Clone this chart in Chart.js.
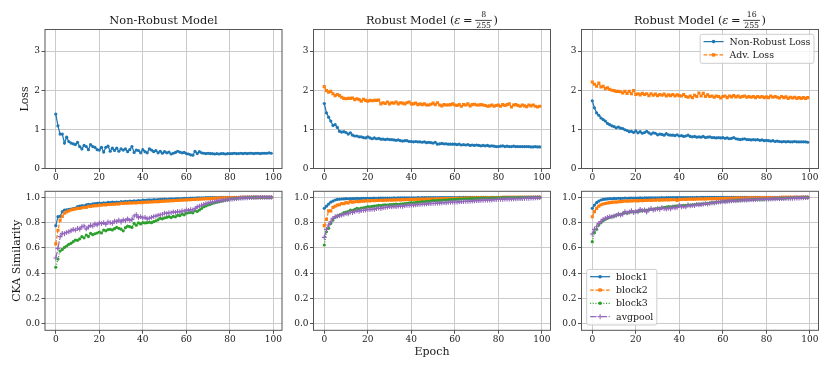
<!DOCTYPE html>
<html>
<head>
<meta charset="utf-8">
<title>Loss and CKA similarity</title>
<script src="https://cdn.jsdelivr.net/npm/chart.js@4.4.1/dist/chart.umd.min.js"></script>
<style>
  html, body { margin: 0; padding: 0; background: #fff; }
  #fig { position: relative; width: 831px; height: 369px; overflow: hidden; background: #fff; }
  #fig canvas { position: absolute; }
</style>
</head>
<body>
<div id="fig">
  <canvas id="lossNat" width="290" height="185" style="left:0px;top:0px"></canvas>
  <canvas id="lossR8" width="290" height="185" style="left:268px;top:0px"></canvas>
  <canvas id="lossR16" width="290" height="185" style="left:536px;top:0px"></canvas>
  <canvas id="ckaNat" width="290" height="184" style="left:0px;top:185px"></canvas>
  <canvas id="ckaR8" width="290" height="184" style="left:268px;top:185px"></canvas>
  <canvas id="ckaR16" width="290" height="184" style="left:536px;top:185px"></canvas>
</div>
<script>
// ---- data ----
const epochs = [
  0, 1, 2, 3, 4, 5, 6, 7, 8, 9,
  10, 11, 12, 13, 14, 15, 16, 17, 18, 19,
  20, 21, 22, 23, 24, 25, 26, 27, 28, 29,
  30, 31, 32, 33, 34, 35, 36, 37, 38, 39,
  40, 41, 42, 43, 44, 45, 46, 47, 48, 49,
  50, 51, 52, 53, 54, 55, 56, 57, 58, 59,
  60, 61, 62, 63, 64, 65, 66, 67, 68, 69,
  70, 71, 72, 73, 74, 75, 76, 77, 78, 79,
  80, 81, 82, 83, 84, 85, 86, 87, 88, 89,
  90, 91, 92, 93, 94, 95, 96, 97, 98, 99
];
const xTicks = [0, 20, 40, 60, 80, 100];
const lossTicks = [0, 1, 2, 3];
const ckaTicks = [0, 0.2, 0.4, 0.6, 0.8, 1.0];

const panelTitles = ["Non-Robust Model", "Robust Model (", "Robust Model ("];
const epsFractions = [null, ["8", "255"], ["16", "255"]];
const lossLabels = ["Non-Robust Loss", "Adv. Loss"];
const blockLabels = ["block1", "block2", "block3", "avgpool"];

// non-robust model, natural loss
const lossNatClean = [
  1.39, 1.09, 0.88, 0.88, 0.65, 0.80, 0.69, 0.65, 0.63, 0.61,
  0.67, 0.56, 0.50, 0.59, 0.56, 0.48, 0.61, 0.56, 0.54, 0.48,
  0.47, 0.54, 0.42, 0.54, 0.57, 0.44, 0.52, 0.46, 0.52, 0.44,
  0.50, 0.47, 0.50, 0.43, 0.48, 0.56, 0.41, 0.47, 0.46, 0.40,
  0.48, 0.43, 0.40, 0.50, 0.47, 0.43, 0.46, 0.40, 0.44, 0.39,
  0.43, 0.40, 0.42, 0.37, 0.39, 0.41, 0.44, 0.42, 0.40, 0.41,
  0.38, 0.37, 0.35, 0.34, 0.44, 0.38, 0.43, 0.40, 0.39, 0.38,
  0.39, 0.38, 0.38, 0.37, 0.38, 0.37, 0.38, 0.38, 0.37, 0.38,
  0.38, 0.38, 0.39, 0.38, 0.38, 0.39, 0.38, 0.39, 0.38, 0.39,
  0.39, 0.38, 0.39, 0.39, 0.38, 0.39, 0.39, 0.39, 0.40, 0.39
];
// robust eps=8/255
const lossR8Clean = [
  1.66, 1.42, 1.31, 1.21, 1.10, 1.12, 1.05, 0.95, 0.93, 0.94,
  0.92, 0.88, 0.91, 0.85, 0.83, 0.83, 0.81, 0.81, 0.79, 0.78,
  0.81, 0.78, 0.76, 0.78, 0.76, 0.77, 0.75, 0.75, 0.74, 0.75,
  0.74, 0.74, 0.73, 0.72, 0.73, 0.71, 0.70, 0.71, 0.71, 0.69,
  0.69, 0.68, 0.69, 0.68, 0.68, 0.67, 0.68, 0.66, 0.67, 0.66,
  0.65, 0.67, 0.62, 0.63, 0.64, 0.63, 0.63, 0.62, 0.62, 0.62,
  0.62, 0.61, 0.62, 0.60, 0.61, 0.60, 0.61, 0.59, 0.60, 0.59,
  0.60, 0.59, 0.58, 0.59, 0.58, 0.59, 0.57, 0.58, 0.57, 0.56,
  0.56, 0.57, 0.58, 0.56, 0.57, 0.56, 0.56, 0.57, 0.56, 0.56,
  0.56, 0.56, 0.56, 0.56, 0.56, 0.55, 0.55, 0.56, 0.55, 0.55
];
const lossR8Adv = [
  2.09, 1.99, 1.95, 1.97, 1.91, 1.86, 1.89, 1.86, 1.82, 1.79,
  1.78, 1.79, 1.79, 1.80, 1.76, 1.78, 1.76, 1.72, 1.77, 1.74,
  1.72, 1.74, 1.73, 1.74, 1.74, 1.75, 1.65, 1.68, 1.66, 1.70,
  1.65, 1.68, 1.67, 1.70, 1.65, 1.68, 1.67, 1.65, 1.68, 1.70,
  1.65, 1.65, 1.67, 1.63, 1.65, 1.63, 1.65, 1.62, 1.62, 1.64,
  1.67, 1.63, 1.68, 1.62, 1.60, 1.63, 1.62, 1.62, 1.63, 1.65,
  1.62, 1.61, 1.63, 1.59, 1.63, 1.62, 1.65, 1.60, 1.63, 1.64,
  1.62, 1.62, 1.63, 1.62, 1.61, 1.59, 1.60, 1.62, 1.59, 1.61,
  1.62, 1.59, 1.63, 1.61, 1.63, 1.65, 1.57, 1.62, 1.63, 1.61,
  1.59, 1.62, 1.60, 1.58, 1.62, 1.60, 1.62, 1.59, 1.57, 1.59
];
// robust eps=16/255
const lossR16Clean = [
  1.73, 1.55, 1.42, 1.36, 1.29, 1.25, 1.21, 1.15, 1.12, 1.09,
  1.07, 1.04, 1.06, 1.03, 1.02, 0.99, 0.97, 0.94, 0.95, 0.92,
  0.96, 0.91, 0.94, 0.90, 0.92, 0.95, 0.91, 0.88, 0.91, 0.90,
  0.86, 0.88, 0.87, 0.85, 0.89, 0.86, 0.85, 0.85, 0.84, 0.86,
  0.83, 0.84, 0.82, 0.83, 0.85, 0.82, 0.81, 0.82, 0.80, 0.81,
  0.80, 0.82, 0.79, 0.80, 0.81, 0.79, 0.79, 0.78, 0.79, 0.78,
  0.79, 0.77, 0.78, 0.76, 0.77, 0.79, 0.76, 0.75, 0.74, 0.75,
  0.76, 0.74, 0.74, 0.73, 0.74, 0.73, 0.74, 0.72, 0.73, 0.71,
  0.72, 0.71, 0.70, 0.71, 0.69, 0.70, 0.69, 0.68, 0.69, 0.68,
  0.69, 0.68, 0.68, 0.69, 0.68, 0.68, 0.68, 0.68, 0.68, 0.67
];
const lossR16Adv = [
  2.21, 2.15, 2.10, 2.18, 2.08, 2.10, 2.04, 2.06, 2.02, 2.00,
  1.99, 1.97, 1.97, 1.96, 1.93, 1.97, 1.92, 1.97, 1.91, 1.99,
  1.89, 1.91, 1.88, 1.92, 1.89, 1.91, 1.86, 1.91, 1.87, 1.90,
  1.86, 1.89, 1.87, 1.90, 1.85, 1.88, 1.86, 1.89, 1.85, 1.88,
  1.86, 1.85, 1.89, 1.84, 1.82, 1.85, 1.81, 1.87, 1.84, 1.93,
  1.85, 1.92, 1.84, 1.88, 1.84, 1.85, 1.82, 1.85, 1.84, 1.80,
  1.84, 1.85, 1.81, 1.85, 1.83, 1.86, 1.83, 1.85, 1.82, 1.84,
  1.85, 1.82, 1.84, 1.82, 1.84, 1.81, 1.84, 1.82, 1.84, 1.81,
  1.83, 1.81, 1.85, 1.82, 1.84, 1.82, 1.80, 1.84, 1.81, 1.83,
  1.79, 1.82, 1.80, 1.82, 1.79, 1.81, 1.79, 1.81, 1.79, 1.81
];

// CKA similarity, non-robust model
const ckaNatBlock1 = [
  0.776, 0.847, 0.850, 0.887, 0.900, 0.902, 0.905, 0.908, 0.912, 0.915,
  0.926, 0.930, 0.935, 0.933, 0.940, 0.945, 0.942, 0.948, 0.950, 0.952,
  0.955, 0.953, 0.957, 0.955, 0.960, 0.958, 0.962, 0.960, 0.963, 0.961,
  0.966, 0.964, 0.968, 0.966, 0.970, 0.968, 0.972, 0.970, 0.974, 0.973,
  0.978, 0.976, 0.979, 0.981, 0.979, 0.982, 0.980, 0.983, 0.984, 0.985,
  0.986, 0.985, 0.987, 0.988, 0.987, 0.989, 0.990, 0.989, 0.991, 0.992,
  0.993, 0.993, 0.994, 0.995, 0.995, 0.996, 0.996, 0.997, 0.997, 0.998,
  0.998, 0.998, 0.999, 0.999, 0.999, 0.999, 1.000, 1.000, 1.000, 1.000,
  1.000, 1.000, 1.000, 1.000, 1.000, 1.000, 1.000, 1.000, 1.000, 1.000,
  1.000, 1.000, 1.000, 1.000, 1.000, 1.000, 1.000, 1.000, 1.000, 1.000
];
const ckaNatBlock2 = [
  0.632, 0.740, 0.820, 0.850, 0.875, 0.885, 0.893, 0.900, 0.905, 0.908,
  0.913, 0.912, 0.918, 0.922, 0.920, 0.930, 0.928, 0.933, 0.935, 0.934,
  0.940, 0.938, 0.942, 0.941, 0.944, 0.943, 0.946, 0.945, 0.948, 0.947,
  0.953, 0.951, 0.954, 0.953, 0.956, 0.955, 0.957, 0.956, 0.959, 0.958,
  0.960, 0.961, 0.962, 0.963, 0.963, 0.965, 0.966, 0.966, 0.968, 0.969,
  0.970, 0.971, 0.972, 0.973, 0.974, 0.975, 0.976, 0.977, 0.978, 0.979,
  0.980, 0.981, 0.982, 0.983, 0.984, 0.985, 0.986, 0.987, 0.988, 0.989,
  0.990, 0.991, 0.992, 0.993, 0.994, 0.995, 0.995, 0.996, 0.997, 0.997,
  0.998, 0.998, 0.999, 0.999, 0.999, 1.000, 1.000, 1.000, 1.000, 1.000,
  1.000, 1.000, 1.000, 1.000, 1.000, 1.000, 1.000, 1.000, 1.000, 1.000
];
const ckaNatBlock3 = [
  0.447, 0.512, 0.575, 0.588, 0.604, 0.615, 0.628, 0.636, 0.649, 0.662,
  0.660, 0.672, 0.689, 0.680, 0.702, 0.690, 0.715, 0.705, 0.712, 0.718,
  0.726, 0.718, 0.741, 0.735, 0.745, 0.747, 0.742, 0.752, 0.762, 0.755,
  0.748, 0.735, 0.760, 0.772, 0.768, 0.762, 0.794, 0.780, 0.798, 0.790,
  0.800, 0.798, 0.800, 0.803, 0.800, 0.808, 0.815, 0.822, 0.834, 0.830,
  0.838, 0.842, 0.847, 0.840, 0.850, 0.846, 0.858, 0.855, 0.868, 0.862,
  0.875, 0.879, 0.882, 0.878, 0.894, 0.888, 0.900, 0.912, 0.926, 0.932,
  0.940, 0.945, 0.953, 0.957, 0.962, 0.966, 0.970, 0.974, 0.979, 0.982,
  0.987, 0.989, 0.990, 0.992, 0.993, 0.995, 0.996, 0.997, 0.998, 0.999,
  1.000, 1.000, 1.000, 1.000, 1.000, 1.000, 1.000, 1.000, 1.000, 1.000
];
const ckaNatPool = [
  0.520, 0.596, 0.689, 0.715, 0.712, 0.723, 0.728, 0.736, 0.747, 0.741,
  0.755, 0.748, 0.768, 0.773, 0.750, 0.765, 0.778, 0.772, 0.790, 0.782,
  0.798, 0.792, 0.800, 0.787, 0.805, 0.800, 0.795, 0.812, 0.808, 0.820,
  0.805, 0.822, 0.815, 0.830, 0.818, 0.825, 0.852, 0.863, 0.840, 0.848,
  0.838, 0.842, 0.830, 0.835, 0.842, 0.848, 0.852, 0.858, 0.862, 0.866,
  0.876, 0.872, 0.880, 0.878, 0.885, 0.882, 0.888, 0.885, 0.892, 0.890,
  0.900, 0.897, 0.903, 0.900, 0.910, 0.925, 0.930, 0.938, 0.944, 0.950,
  0.955, 0.960, 0.963, 0.967, 0.970, 0.973, 0.976, 0.978, 0.980, 0.983,
  0.985, 0.987, 0.989, 0.991, 0.992, 0.994, 0.995, 0.996, 0.997, 0.998,
  0.998, 0.999, 0.999, 1.000, 1.000, 1.000, 1.000, 1.000, 1.000, 1.000
];

// CKA similarity, robust eps=8/255
const ckaR8Block1 = [
  0.913, 0.930, 0.947, 0.963, 0.971, 0.979, 0.984, 0.985, 0.987, 0.988,
  0.990, 0.989, 0.991, 0.990, 0.991, 0.992, 0.991, 0.992, 0.993, 0.992,
  0.992, 0.993, 0.993, 0.994, 0.993, 0.994, 0.994, 0.995, 0.994, 0.995,
  0.995, 0.995, 0.996, 0.995, 0.996, 0.996, 0.996, 0.997, 0.996, 0.997,
  0.997, 0.997, 0.997, 0.998, 0.997, 0.998, 0.998, 0.998, 0.998, 0.998,
  0.998, 0.999, 0.998, 0.999, 0.999, 0.999, 0.999, 0.999, 0.999, 0.999,
  0.999, 0.999, 1.000, 0.999, 1.000, 1.000, 1.000, 1.000, 1.000, 1.000,
  1.000, 1.000, 1.000, 1.000, 1.000, 1.000, 1.000, 1.000, 1.000, 1.000,
  1.000, 1.000, 1.000, 1.000, 1.000, 1.000, 1.000, 1.000, 1.000, 1.000,
  1.000, 1.000, 1.000, 1.000, 1.000, 1.000, 1.000, 1.000, 1.000, 1.000
];
const ckaR8Block2 = [
  0.776, 0.826, 0.894, 0.892, 0.921, 0.930, 0.939, 0.942, 0.952, 0.950,
  0.958, 0.956, 0.966, 0.962, 0.965, 0.968, 0.966, 0.969, 0.970, 0.971,
  0.974, 0.972, 0.975, 0.973, 0.976, 0.975, 0.977, 0.976, 0.978, 0.977,
  0.979, 0.978, 0.980, 0.979, 0.981, 0.980, 0.982, 0.981, 0.983, 0.982,
  0.984, 0.983, 0.985, 0.984, 0.985, 0.986, 0.985, 0.986, 0.987, 0.986,
  0.987, 0.988, 0.988, 0.989, 0.989, 0.990, 0.990, 0.990, 0.991, 0.991,
  0.992, 0.992, 0.993, 0.993, 0.993, 0.994, 0.994, 0.995, 0.995, 0.996,
  0.996, 0.996, 0.997, 0.997, 0.997, 0.998, 0.998, 0.998, 0.999, 0.999,
  0.999, 0.999, 1.000, 1.000, 1.000, 1.000, 1.000, 1.000, 1.000, 1.000,
  1.000, 1.000, 1.000, 1.000, 1.000, 1.000, 1.000, 1.000, 1.000, 1.000
];
const ckaR8Block3 = [
  0.623, 0.728, 0.755, 0.794, 0.820, 0.842, 0.852, 0.860, 0.868, 0.879,
  0.884, 0.888, 0.900, 0.896, 0.905, 0.913, 0.910, 0.915, 0.918, 0.920,
  0.926, 0.924, 0.928, 0.930, 0.932, 0.937, 0.935, 0.938, 0.940, 0.939,
  0.942, 0.943, 0.944, 0.946, 0.945, 0.947, 0.949, 0.951, 0.953, 0.955,
  0.958, 0.957, 0.960, 0.961, 0.963, 0.966, 0.965, 0.968, 0.969, 0.971,
  0.974, 0.973, 0.975, 0.976, 0.977, 0.979, 0.978, 0.980, 0.982, 0.983,
  0.984, 0.985, 0.986, 0.987, 0.987, 0.988, 0.989, 0.990, 0.990, 0.991,
  0.992, 0.992, 0.993, 0.994, 0.994, 0.995, 0.995, 0.996, 0.996, 0.997,
  0.997, 0.997, 0.998, 0.998, 0.998, 0.999, 0.999, 0.999, 0.999, 1.000,
  1.000, 1.000, 1.000, 1.000, 1.000, 1.000, 1.000, 1.000, 1.000, 1.000
];
const ckaR8Pool = [
  0.683, 0.747, 0.781, 0.807, 0.834, 0.847, 0.852, 0.855, 0.860, 0.865,
  0.873, 0.870, 0.884, 0.880, 0.888, 0.894, 0.890, 0.896, 0.898, 0.900,
  0.905, 0.903, 0.908, 0.906, 0.912, 0.916, 0.912, 0.918, 0.920, 0.922,
  0.926, 0.924, 0.928, 0.927, 0.930, 0.931, 0.929, 0.934, 0.936, 0.937,
  0.939, 0.938, 0.941, 0.943, 0.944, 0.947, 0.946, 0.948, 0.950, 0.951,
  0.952, 0.953, 0.955, 0.954, 0.957, 0.958, 0.957, 0.960, 0.961, 0.962,
  0.963, 0.963, 0.965, 0.966, 0.967, 0.968, 0.969, 0.970, 0.971, 0.973,
  0.974, 0.974, 0.976, 0.977, 0.978, 0.979, 0.979, 0.981, 0.982, 0.983,
  0.984, 0.984, 0.985, 0.986, 0.987, 0.987, 0.988, 0.989, 0.989, 0.990,
  0.990, 0.991, 0.992, 0.993, 0.993, 0.994, 0.995, 0.996, 0.997, 0.998
];

// CKA similarity, robust eps=16/255
const ckaR16Block1 = [
  0.913, 0.939, 0.958, 0.971, 0.979, 0.984, 0.986, 0.988, 0.990, 0.989,
  0.992, 0.991, 0.993, 0.992, 0.993, 0.994, 0.993, 0.994, 0.995, 0.994,
  0.995, 0.995, 0.996, 0.995, 0.996, 0.996, 0.996, 0.997, 0.996, 0.997,
  0.997, 0.997, 0.998, 0.997, 0.998, 0.998, 0.998, 0.998, 0.998, 0.999,
  0.998, 0.999, 0.999, 0.999, 0.999, 0.999, 0.999, 0.999, 1.000, 0.999,
  1.000, 1.000, 1.000, 1.000, 1.000, 1.000, 1.000, 1.000, 1.000, 1.000,
  1.000, 1.000, 1.000, 1.000, 1.000, 1.000, 1.000, 1.000, 1.000, 1.000,
  1.000, 1.000, 1.000, 1.000, 1.000, 1.000, 1.000, 1.000, 1.000, 1.000,
  1.000, 1.000, 1.000, 1.000, 1.000, 1.000, 1.000, 1.000, 1.000, 1.000,
  1.000, 1.000, 1.000, 1.000, 1.000, 1.000, 1.000, 1.000, 1.000, 1.000
];
const ckaR16Block2 = [
  0.847, 0.887, 0.913, 0.931, 0.942, 0.947, 0.952, 0.955, 0.958, 0.960,
  0.963, 0.962, 0.965, 0.966, 0.968, 0.971, 0.969, 0.972, 0.971, 0.973,
  0.974, 0.972, 0.975, 0.974, 0.976, 0.975, 0.977, 0.976, 0.978, 0.977,
  0.979, 0.978, 0.980, 0.979, 0.981, 0.980, 0.982, 0.981, 0.983, 0.975,
  0.984, 0.983, 0.985, 0.984, 0.985, 0.986, 0.985, 0.986, 0.987, 0.987,
  0.988, 0.987, 0.988, 0.989, 0.989, 0.990, 0.989, 0.990, 0.990, 0.991,
  0.991, 0.992, 0.992, 0.992, 0.993, 0.993, 0.994, 0.994, 0.994, 0.995,
  0.995, 0.995, 0.996, 0.996, 0.996, 0.997, 0.997, 0.997, 0.998, 0.998,
  0.998, 0.998, 0.999, 0.999, 0.999, 0.999, 0.999, 1.000, 1.000, 1.000,
  1.000, 1.000, 1.000, 1.000, 1.000, 1.000, 1.000, 1.000, 1.000, 1.000
];
const ckaR16Block3 = [
  0.649, 0.720, 0.747, 0.781, 0.800, 0.815, 0.826, 0.834, 0.842, 0.848,
  0.852, 0.858, 0.863, 0.866, 0.872, 0.879, 0.876, 0.882, 0.884, 0.885,
  0.887, 0.889, 0.892, 0.894, 0.897, 0.900, 0.902, 0.905, 0.907, 0.909,
  0.913, 0.915, 0.917, 0.920, 0.922, 0.926, 0.925, 0.928, 0.931, 0.933,
  0.934, 0.935, 0.936, 0.937, 0.938, 0.939, 0.941, 0.943, 0.944, 0.946,
  0.947, 0.949, 0.951, 0.953, 0.955, 0.958, 0.959, 0.961, 0.963, 0.965,
  0.968, 0.969, 0.970, 0.972, 0.973, 0.974, 0.975, 0.976, 0.977, 0.978,
  0.979, 0.980, 0.981, 0.982, 0.983, 0.984, 0.985, 0.985, 0.986, 0.986,
  0.987, 0.988, 0.988, 0.989, 0.990, 0.991, 0.991, 0.992, 0.993, 0.994,
  0.995, 0.995, 0.996, 0.997, 0.997, 0.998, 0.998, 0.999, 0.999, 1.000
];
const ckaR16Pool = [
  0.710, 0.747, 0.768, 0.794, 0.807, 0.826, 0.834, 0.842, 0.847, 0.845,
  0.852, 0.858, 0.868, 0.860, 0.866, 0.887, 0.878, 0.884, 0.894, 0.880,
  0.889, 0.885, 0.905, 0.895, 0.900, 0.884, 0.902, 0.912, 0.900, 0.905,
  0.910, 0.905, 0.918, 0.912, 0.908, 0.915, 0.910, 0.922, 0.917, 0.920,
  0.937, 0.925, 0.928, 0.924, 0.940, 0.932, 0.936, 0.935, 0.945, 0.940,
  0.942, 0.946, 0.950, 0.947, 0.952, 0.957, 0.955, 0.960, 0.962, 0.964,
  0.968, 0.965, 0.969, 0.970, 0.972, 0.974, 0.973, 0.975, 0.977, 0.978,
  0.979, 0.978, 0.980, 0.982, 0.981, 0.983, 0.984, 0.985, 0.984, 0.986,
  0.987, 0.986, 0.988, 0.989, 0.988, 0.990, 0.989, 0.991, 0.990, 0.992,
  0.992, 0.993, 0.992, 0.994, 0.995, 0.994, 0.996, 0.997, 0.998, 0.998
];

// ---- styling ----
const FONT = '"DejaVu Serif", serif';
const TEXT = '#1a1a1a';
const GRID = '#cbcbcb';
const FRAME = '#555555';
const BLUE = '#1f77b4', ORANGE = '#ff7f0e', GREEN = '#2ca02c', PURPLE = '#9467bd';

// matplotlib-ish line/marker styles: '.-', 's--', '.:', '+-.'
const styles = [
  { color: BLUE, dash: [], point: 'circle', r: 1.6 },
  { color: ORANGE, dash: [3.7, 1.6], point: 'rect', r: 2.2 },
  { color: GREEN, dash: [1, 1.65], point: 'circle', r: 1.6 },
  { color: PURPLE, dash: [6.4, 1.6, 1, 1.6], point: 'cross', r: 2.4 }
];

Chart.defaults.font.family = FONT;
Chart.defaults.font.size = 9;
Chart.defaults.color = TEXT;

function makeDataset(label, values, st, i, n) {
  return {
    label: label,
    data: values,
    borderColor: st.color,
    backgroundColor: st.color,
    borderWidth: 1.25,
    borderDash: st.dash,
    pointStyle: st.point,
    pointRadius: st.r,
    pointBackgroundColor: st.color,
    pointBorderColor: st.color,
    pointBorderWidth: st.point === 'cross' ? 1.1 : 0,
    tension: 0,
    fill: false,
    order: n - i   // later series drawn on top, like matplotlib
  };
}

function drawTitle(ctx, area, title) {
  const cx = (area.left + area.right) / 2;
  const base = 24;
  const main = '11.4px ' + FONT;
  ctx.fillStyle = TEXT;
  ctx.textBaseline = 'alphabetic';
  ctx.font = main;
  if (!title.frac) {
    ctx.textAlign = 'center';
    ctx.fillText(title.text, cx, base);
    return;
  }
  const small = '7.8px ' + FONT;
  const ital = 'italic 11.4px ' + FONT;
  ctx.textAlign = 'left';
  const w1 = ctx.measureText(title.text).width;
  const wEq = ctx.measureText('=').width;
  const wP = ctx.measureText(')').width;
  ctx.font = ital;
  const wE = ctx.measureText('\u03b5').width;
  ctx.font = small;
  const wF = Math.max(ctx.measureText(title.frac[0]).width, ctx.measureText(title.frac[1]).width) + 2;
  const sp = 2.6;
  const total = w1 + wE + sp + wEq + sp + wF + 1.5 + wP;
  let x = cx - total / 2;
  ctx.font = main;
  ctx.fillText(title.text, x, base); x += w1;
  ctx.font = ital;
  ctx.fillText('\u03b5', x, base); x += wE + sp;
  ctx.font = main;
  ctx.fillText('=', x, base); x += wEq + sp;
  ctx.font = small;
  ctx.textAlign = 'center';
  ctx.fillText(title.frac[0], x + wF / 2, base - 6.6);
  ctx.fillText(title.frac[1], x + wF / 2, base + 3.6);
  ctx.fillRect(x, base - 4.1, wF, 0.8);
  x += wF + 1.5;
  ctx.textAlign = 'left';
  ctx.font = main;
  ctx.fillText(')', x, base);
}

function drawLegend(ctx, area, lg) {
  const rowH = 13.3, lineLen = 20;
  ctx.font = '9.4px ' + FONT;
  const textW = Math.max(...lg.items.map(it => ctx.measureText(it.label).width));
  const w = 3.4 + lineLen + 6 + textW + 3.6;
  const h = lg.items.length * rowH + 2.4;
  const x = lg.corner === 'upper right' ? area.right - 4.5 - w : area.left + 5.2;
  const y = lg.corner === 'upper right' ? area.top + 4.8 : area.bottom - 5.3 - h;
  ctx.beginPath();
  ctx.roundRect(x, y, w, h, 2);
  ctx.fillStyle = 'rgba(255,255,255,0.8)';
  ctx.fill();
  ctx.strokeStyle = '#cccccc';
  ctx.lineWidth = 1;
  ctx.stroke();
  lg.items.forEach((it, i) => {
    const cy = y + 7.3 + i * rowH;
    const st = it.style;
    ctx.save();
    ctx.strokeStyle = st.color;
    ctx.lineWidth = 1.25;
    ctx.setLineDash(st.dash);
    ctx.beginPath();
    ctx.moveTo(x + 3.4, cy);
    ctx.lineTo(x + 3.4 + lineLen, cy);
    ctx.stroke();
    ctx.restore();
    ctx.fillStyle = st.color;
    ctx.strokeStyle = st.color;
    Chart.helpers.drawPoint(ctx, {
      pointStyle: st.point, radius: st.r + 0.2, rotation: 0,
      borderWidth: st.point === 'cross' ? 1.1 : 0
    }, x + 3.4 + lineLen / 2, cy);
    ctx.fillStyle = TEXT;
    ctx.textAlign = 'left';
    ctx.textBaseline = 'middle';
    ctx.fillText(it.label, x + 3.4 + lineLen + 6, cy + 0.5);
  });
}

const decor = {
  id: 'decor',
  afterDraw(chart, args, opts) {
    const ctx = chart.ctx, a = chart.chartArea;
    ctx.save();
    ctx.strokeStyle = FRAME;
    ctx.lineWidth = 1;
    ctx.strokeRect(a.left, a.top, a.right - a.left, a.bottom - a.top);
    if (opts.title) drawTitle(ctx, a, opts.title);
    if (opts.legend) drawLegend(ctx, a, opts.legend);
    ctx.restore();
  }
};

function makePanel(id, p) {
  const n = p.series.length;
  return new Chart(document.getElementById(id), {
    type: 'line',
    data: {
      labels: epochs,
      datasets: p.series.map((s, i) => makeDataset(s.label, s.values, styles[s.style], i, n))
    },
    options: {
      responsive: false,
      animation: false,
      devicePixelRatio: 1,
      events: [],
      layout: { padding: { top: p.padTop, right: p.padRight, bottom: 0, left: 0 } },
      plugins: {
        legend: { display: false },
        tooltip: { enabled: false },
        decor: { title: p.title, legend: p.legend }
      },
      scales: {
        x: {
          type: 'linear',
          min: -4.95,
          max: 103.95,
          afterBuildTicks: s => { s.ticks = xTicks.map(v => ({ value: v })); },
          afterFit: s => { s.height = p.xAxisH; s.paddingLeft = 0; s.paddingRight = 0; },
          ticks: { padding: 0, maxRotation: 0, autoSkip: false, callback: v => String(v) },
          grid: { color: GRID, lineWidth: 1, tickLength: 3.5, tickColor: FRAME, tickWidth: 1 },
          border: { display: false },
          title: p.xTitle
            ? { display: true, text: p.xTitle, font: { size: 11 }, color: TEXT, padding: { top: 0, bottom: 10.7 } }
            : { display: false }
        },
        y: {
          type: 'linear',
          min: p.yMin,
          max: p.yMax,
          afterBuildTicks: s => { s.ticks = p.yTicks.map(v => ({ value: v })); },
          afterFit: s => { s.width = p.yAxisW; s.paddingTop = 0; s.paddingBottom = 0; },
          ticks: { padding: 1.5, autoSkip: false, callback: v => v.toFixed(p.yDigits) },
          grid: { color: GRID, lineWidth: 1, tickLength: 3.5, tickColor: FRAME, tickWidth: 1 },
          border: { display: false },
          title: p.yTitle
            ? { display: true, text: p.yTitle, font: { size: 11 }, color: TEXT, padding: { top: p.yTitlePad, bottom: 0 } }
            : { display: false }
        }
      }
    },
    plugins: [decor]
  });
}

// ---- layout of the 2x3 grid ----
const canvasLefts = [0, 268, 536];
const plotLefts = [45, 313.5, 581.5];
const plotW = 237;

const lossSeries = [
  [{ label: lossLabels[0], values: lossNatClean, style: 0 }],
  [{ label: lossLabels[0], values: lossR8Clean, style: 0 }, { label: lossLabels[1], values: lossR8Adv, style: 1 }],
  [{ label: lossLabels[0], values: lossR16Clean, style: 0 }, { label: lossLabels[1], values: lossR16Adv, style: 1 }]
];
const ckaSeries = [
  [ckaNatBlock1, ckaNatBlock2, ckaNatBlock3, ckaNatPool],
  [ckaR8Block1, ckaR8Block2, ckaR8Block3, ckaR8Pool],
  [ckaR16Block1, ckaR16Block2, ckaR16Block3, ckaR16Pool]
];
const lossIds = ['lossNat', 'lossR8', 'lossR16'];
const ckaIds = ['ckaNat', 'ckaR8', 'ckaR16'];

for (let c = 0; c < 3; c++) {
  const yAxisW = plotLefts[c] - canvasLefts[c];
  const padRight = 290 - yAxisW - plotW;

  makePanel(lossIds[c], {
    series: lossSeries[c],
    padTop: 29.5, padRight: padRight, xAxisH: 185 - 29.5 - 139, yAxisW: yAxisW,
    yMin: 0, yMax: 3.55, yTicks: lossTicks, yDigits: 0,
    yTitle: c === 0 ? 'Loss' : null, yTitlePad: 18.4,
    title: { text: panelTitles[c], frac: epsFractions[c] },
    legend: c === 2 ? {
      corner: 'upper right',
      items: [{ label: lossLabels[0], style: styles[0] }, { label: lossLabels[1], style: styles[1] }]
    } : null
  });

  makePanel(ckaIds[c], {
    series: ckaSeries[c].map((vals, i) => ({ label: blockLabels[i], values: vals, style: i })),
    padTop: 6.3, padRight: padRight, xAxisH: 184 - 6.3 - 139, yAxisW: yAxisW,
    yMin: -0.052, yMax: 1.048, yTicks: ckaTicks, yDigits: 1,
    yTitle: c === 0 ? 'CKA Similarity' : null, yTitlePad: 10.4,
    xTitle: c === 1 ? 'Epoch' : null,
    title: null,
    legend: c === 2 ? {
      corner: 'lower left',
      items: blockLabels.map((l, i) => ({ label: l, style: styles[i] }))
    } : null
  });
}
</script>
</body>
</html>
